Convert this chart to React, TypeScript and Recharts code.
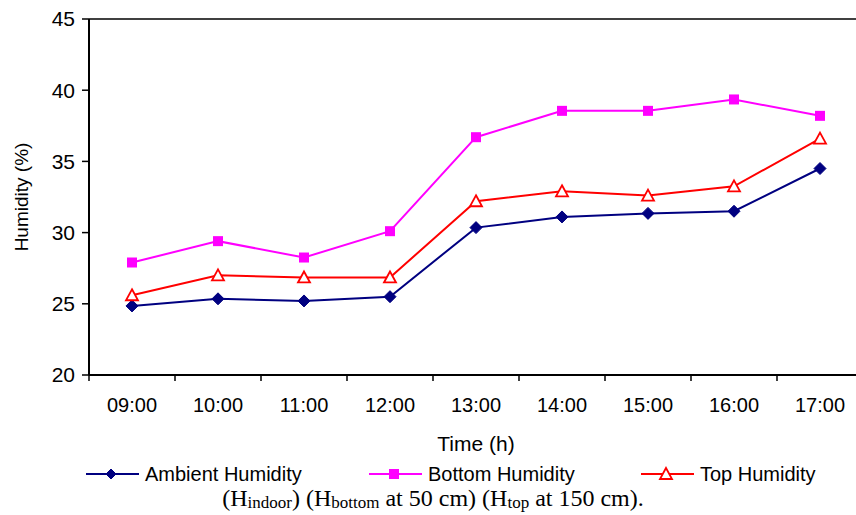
import { LineChart, Line, XAxis, YAxis, ReferenceLine, Label } from 'recharts';

const hours = ['09:00', '10:00', '11:00', '12:00', '13:00', '14:00', '15:00', '16:00', '17:00'];
const ambientHumidity = [24.85, 25.35, 25.2, 25.5, 30.35, 31.1, 31.35, 31.5, 34.5];
const bottomHumidity = [27.9, 29.4, 28.25, 30.1, 36.7, 38.55, 38.55, 39.35, 38.2];
const topHumidity = [25.6, 27.0, 26.85, 26.85, 32.2, 32.9, 32.6, 33.25, 36.6];
const yTicks = [20, 25, 30, 35, 40, 45];

const data = hours.map((h, i) => ({
  time: h,
  ambient: ambientHumidity[i],
  bottom: bottomHumidity[i],
  top: topHumidity[i],
}));

const NAVY = '#000080';
const MAGENTA = '#ff00ff';
const RED = '#ff0000';
const FONT = '"Liberation Sans", Arial, sans-serif';

const Diamond = ({ cx, cy, size = 6 }: { cx: number; cy: number; size?: number }) => (
  <path d={`M${cx},${cy - size} L${cx + size},${cy} L${cx},${cy + size} L${cx - size},${cy} Z`} fill={NAVY} stroke={NAVY} />
);

const Square = ({ cx, cy, size = 5 }: { cx: number; cy: number; size?: number }) => (
  <rect x={cx - size} y={cy - size} width={size * 2} height={size * 2} fill={MAGENTA} />
);

const Triangle = ({ cx, cy, size = 6 }: { cx: number; cy: number; size?: number }) => (
  <path d={`M${cx},${cy - size} L${cx + size},${cy + size - 1} L${cx - size},${cy + size - 1} Z`} fill="#fff" stroke={RED} strokeWidth={1.8} />
);

const XTick = (props: any) => {
  const { x, y, payload } = props;
  return (
    <g>
      <line x1={x - 43} y1={y - 8} x2={x - 43} y2={y - 2} stroke="#000" strokeWidth={1.5} />
      <text x={x} y={y + 29} textAnchor="middle" fontSize={20} fontFamily={FONT} fill="#000">
        {payload.value}
      </text>
    </g>
  );
};

const LegendRow = () => {
  const items = [
    { label: 'Ambient Humidity', color: NAVY, x: 86, mark: (cx: number, cy: number) => <Diamond cx={cx} cy={cy} size={5} /> },
    { label: 'Bottom Humidity', color: MAGENTA, x: 369, mark: (cx: number, cy: number) => <Square cx={cx} cy={cy} size={5} /> },
    { label: 'Top Humidity', color: RED, x: 641, mark: (cx: number, cy: number) => <Triangle cx={cx} cy={cy} size={6} /> },
  ];
  return (
    <svg width={856} height={30} style={{ position: 'absolute', left: 0, top: 459 }}>
      {items.map((it) => (
        <g key={it.label}>
          <line x1={it.x} y1={15} x2={it.x + 53} y2={15} stroke={it.color} strokeWidth={2} />
          {it.mark(it.x + 25, 15)}
          <text x={it.x + 59} y={22} fontSize={20} fontFamily={FONT} fill="#000">
            {it.label}
          </text>
        </g>
      ))}
    </svg>
  );
};

const subStyle = { fontSize: 17, verticalAlign: '-2px', lineHeight: 0 };

export default function App() {
  return (
    <div style={{ position: 'absolute', left: 0, top: 0, width: 856, height: 515, overflow: 'hidden', background: '#fff' }}>
      <LineChart width={880} height={515} data={data} margin={{ top: 19, right: 17, bottom: 110, left: 0 }}>
        <XAxis
          dataKey="time"
          height={30}
          padding={{ left: 43, right: 43 }}
          tickLine={false}
          tick={<XTick />}
          interval={0}
          axisLine={{ stroke: '#000', strokeWidth: 2 }}
        >
          <Label value="Time (h)" position="insideBottom" offset={-46} style={{ fontSize: 21, fontFamily: FONT, fill: '#000' }} />
        </XAxis>
        <YAxis
          width={89}
          domain={[20, 45]}
          ticks={yTicks}
          interval={0}
          tickSize={7}
          tickMargin={7}
          tickLine={{ stroke: '#000', strokeWidth: 1.5 }}
          axisLine={{ stroke: '#000', strokeWidth: 2 }}
          tick={{ fontSize: 21, fontFamily: FONT, fill: '#000' }}
        >
          <Label
            value="Humidity (%)"
            angle={-90}
            position="insideLeft"
            offset={21}
            style={{ textAnchor: 'middle', fontSize: 19, fontFamily: FONT, fill: '#000' }}
          />
        </YAxis>
        <ReferenceLine y={45} stroke="#000" strokeWidth={1.5} />
        <Line
          dataKey="ambient"
          stroke={NAVY}
          strokeWidth={2}
          isAnimationActive={false}
          dot={(p: any) => <Diamond key={`a${p.index}`} cx={p.cx} cy={p.cy} size={6} />}
        />
        <Line
          dataKey="bottom"
          stroke={MAGENTA}
          strokeWidth={2}
          isAnimationActive={false}
          dot={(p: any) => <Square key={`b${p.index}`} cx={p.cx} cy={p.cy} size={5} />}
        />
        <Line
          dataKey="top"
          stroke={RED}
          strokeWidth={2}
          isAnimationActive={false}
          dot={(p: any) => <Triangle key={`t${p.index}`} cx={p.cx} cy={p.cy} size={6} />}
        />
      </LineChart>
      <LegendRow />
      <div
        style={{
          position: 'absolute',
          left: 0,
          width: 856,
          top: 485,
          textAlign: 'center',
          fontFamily: '"Liberation Serif", "Times New Roman", serif',
          fontSize: 24,
          lineHeight: '26px',
          color: '#000',
          paddingLeft: 10,
          boxSizing: 'border-box',
        }}
      >
        (H<sub style={subStyle}>indoor</sub>) (H<sub style={subStyle}>bottom</sub> at 50 cm) (H<sub style={subStyle}>top</sub> at 150 cm).
      </div>
    </div>
  );
}
